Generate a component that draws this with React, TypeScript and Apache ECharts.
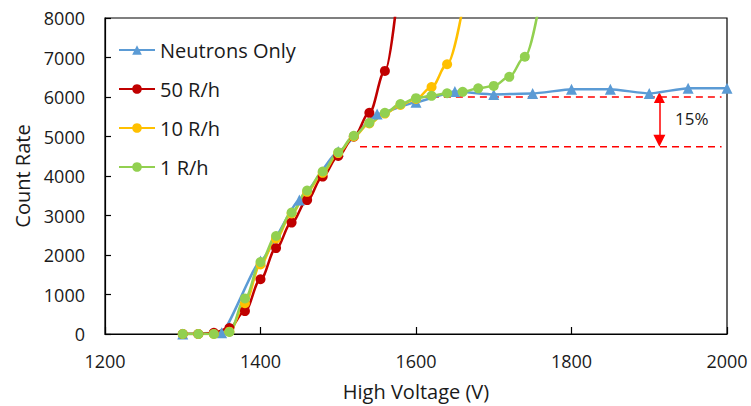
import React, { useEffect, useRef } from "react";
import * as echarts from "echarts";

const xTicks = [1200, 1400, 1600, 1800, 2000];

const neutronVolts = [1300, 1350, 1400, 1450, 1500, 1550, 1600, 1650, 1700, 1750, 1800, 1850, 1900, 1950, 2000];
const neutronCounts = [0, 30, 1850, 3390, 4620, 5570, 5870, 6140, 6065, 6090, 6195, 6195, 6090, 6220, 6220];

const r50Volts = [1300, 1320, 1340, 1360, 1380, 1400, 1420, 1440, 1460, 1480, 1500, 1520, 1540, 1560, 1580];
const r50Counts = [0, 0, 30, 150, 580, 1385, 2175, 2820, 3390, 3985, 4506, 4995, 5600, 6660, 9300];

const r10Volts = [1300, 1320, 1340, 1360, 1380, 1400, 1420, 1440, 1460, 1480, 1500, 1520, 1540, 1560, 1580, 1600, 1620, 1640, 1660];
const r10Counts = [0, 0, 0, 60, 780, 1760, 2420, 3050, 3600, 4080, 4580, 5000, 5330, 5580, 5800, 5950, 6250, 6830, 8250];

const r1Volts = [1300, 1320, 1340, 1360, 1380, 1400, 1420, 1440, 1460, 1480, 1500, 1520, 1540, 1560, 1580, 1600, 1620, 1640, 1660, 1680, 1700, 1720, 1740, 1760];
const r1Counts = [0, 0, 0, 50, 900, 1820, 2480, 3075, 3630, 4115, 4600, 5020, 5345, 5600, 5820, 5970, 6030, 6095, 6130, 6220, 6280, 6510, 7020, 8500];

const upperRefVolts = [1605, 1993];
const upperRefCounts = [6000, 6000];
const lowerRefVolts = [1528, 1993];
const lowerRefCounts = [4740, 4740];
const arrowVolt = 1913;
const arrowCounts = [5985, 4890];
const arrowLabel = "15%";

const seriesNames = ["Neutrons Only", "50 R/h", "10 R/h", "1 R/h"];

const zip = (xs: number[], ys: number[]) => xs.map((x, i) => [x, ys[i]]);

export default function App() {
  const ref = useRef<HTMLDivElement>(null);
  useEffect(() => {
    if (!ref.current) return;
    const chart = echarts.init(ref.current, undefined, { renderer: "svg" });
    const font = "Open Sans";
    const mk = (name: string, xs: number[], ys: number[], color: string, symbol: string, size: number, smooth: number) => ({
      name,
      type: "line",
      data: zip(xs, ys),
      smooth,
      smoothMonotone: "x",
      symbol,
      symbolSize: size,
      showAllSymbol: true,
      clip: true,
      lineStyle: { color, width: 2.5 },
      itemStyle: { color },
      z: 3,
    });
    const dash = (xs: number[], ys: number[]) => ({
      type: "line",
      data: zip(xs, ys),
      symbol: "none",
      silent: true,
      lineStyle: { color: "#FF0000", width: 1.5, type: [7, 5] },
      z: 2,
    });
    chart.setOption({
      animation: false,
      grid: { left: 105, right: 24, top: 18, bottom: 72, show: true, borderColor: "#000", borderWidth: 1.2 },
      legend: {
        data: seriesNames,
        orient: "vertical",
        left: 113,
        top: 35,
        itemWidth: 36,
        itemHeight: 12,
        itemGap: 19,
        textStyle: { fontFamily: font, fontSize: 20, color: "#1a1a1a", lineHeight: 20 },
      },
      xAxis: {
        type: "value",
        min: 1200,
        max: 2000,
        interval: 200,
        name: "High Voltage (V)",
        nameLocation: "middle",
        nameGap: 47,
        nameTextStyle: { fontFamily: font, fontSize: 20, color: "#1a1a1a" },
        axisLine: { lineStyle: { color: "#000", width: 1.2 } },
        axisTick: { inside: true, length: 7, lineStyle: { color: "#000", width: 1.2 } },
        axisLabel: { fontFamily: font, fontSize: 18, color: "#1a1a1a", margin: 18, formatter: (v: number) => String(v), customValues: xTicks },
        splitLine: { show: false },
      },
      yAxis: {
        type: "value",
        min: 0,
        max: 8000,
        interval: 1000,
        name: "Count Rate",
        nameLocation: "middle",
        nameGap: 72,
        nameTextStyle: { fontFamily: font, fontSize: 20, color: "#1a1a1a" },
        axisLine: { show: true, lineStyle: { color: "#000", width: 1.2 } },
        axisTick: { show: true, inside: true, length: 6, lineStyle: { color: "#000", width: 1.2 } },
        axisLabel: { fontFamily: font, fontSize: 18, color: "#1a1a1a", margin: 20, formatter: (v: number) => String(v) },
        splitLine: { show: false },
      },
      series: [
        dash(upperRefVolts, upperRefCounts),
        dash(lowerRefVolts, lowerRefCounts),
        {
          type: "lines",
          coordinateSystem: "cartesian2d",
          silent: true,
          symbol: ["triangle", "triangle"],
          symbolSize: [11, 12],
          lineStyle: { color: "#FF0000", width: 1.5, opacity: 1, curveness: 0 },
          data: [{ coords: [[arrowVolt, arrowCounts[0]], [arrowVolt, arrowCounts[1]]] }],
          z: 2,
        },
        mk(seriesNames[0], neutronVolts, neutronCounts, "#5B9BD5", "triangle", 11, 0.15),
        mk(seriesNames[1], r50Volts, r50Counts, "#C00000", "circle", 10, 0.35),
        mk(seriesNames[2], r10Volts, r10Counts, "#FFC000", "circle", 10, 0.35),
        mk(seriesNames[3], r1Volts, r1Counts, "#92D050", "circle", 10, 0.35),
      ],
      graphic: [
        {
          type: "text",
          left: 675,
          top: 110,
          style: { text: arrowLabel, fontFamily: font, fontSize: 17, fill: "#1a1a1a" },
        },
      ],
    });
    return () => chart.dispose();
  }, []);
  return <div ref={ref} style={{ width: 751, height: 406, position: "absolute", left: 0, top: 0 }} />;
}
